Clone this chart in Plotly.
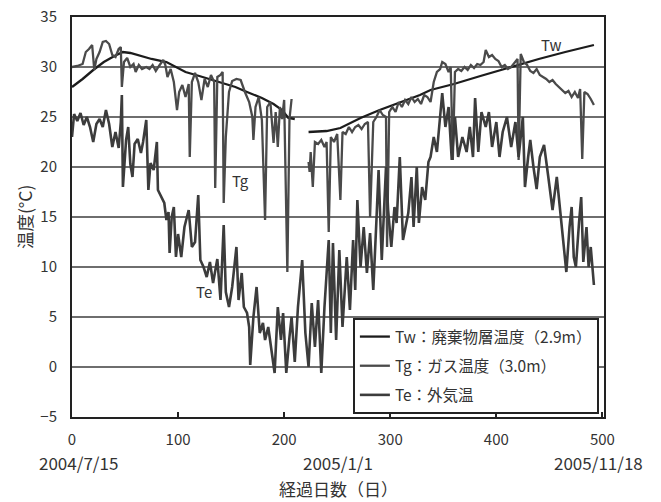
import plotly.graph_objects as go

# Waste-layer temperature Tw (2.9 m) — days since 2004/7/15, None marks the logging gap
tw_day = [0, 10, 20, 30, 40, 48, 55, 65, 75, 89, 100, 107, 120, 132, 143, 154, 165, 179, 190, 198, 204, 210,
          216,
          223, 240, 253, 265, 272, 290, 310, 328, 338, 360, 385, 413, 440, 465, 492]
tw_val = [28.0, 28.8, 29.7, 30.5, 31.1, 31.5, 31.4, 31.1, 30.8, 30.5, 29.9, 29.5, 29.1, 28.7, 28.4, 28.0, 27.5, 26.9, 26.3, 25.7, 24.9, 24.8,
          None,
          23.5, 23.6, 23.9, 24.5, 24.9, 25.7, 26.5, 27.2, 27.7, 28.3, 29.1, 30.0, 30.8, 31.5, 32.2]

# Gas temperature Tg (3.0 m)
tg_day = [0, 5, 10, 13, 16, 19, 21, 23, 26, 29, 32, 35, 38, 41, 44, 46, 47, 49, 52, 55, 58, 60, 63, 66, 70,
          73, 76, 79, 82, 86, 88, 90, 93, 96, 99, 101, 104, 107, 110, 111, 113, 116, 119, 122, 125, 128, 131,
          134, 135, 137, 140, 142, 143, 145, 148, 151, 155, 159, 163, 167, 170, 171, 173, 176, 179, 182, 184,
          187, 190, 192, 194, 196, 198, 200, 203, 205, 207,
          215,
          223, 224, 225, 227, 229, 232, 235, 238, 240, 242, 244, 247, 250, 253, 255, 258, 261, 264, 267, 270,
          273, 276, 279, 281, 284, 287, 290, 293, 296, 297, 299, 302, 305, 308, 311, 314, 317, 320, 323, 326,
          329, 332, 335, 338, 341, 344, 347, 349, 352, 355, 357, 359, 361, 364, 367, 370, 373, 376, 379, 382,
          385, 388, 390, 393, 396, 399, 402, 405, 408, 411, 414, 417, 420, 421, 423, 426, 429, 432, 435, 438,
          441, 444, 447, 450, 453, 456, 459, 462, 465, 468, 471, 474, 477, 479, 481, 483, 486, 489, 492]
tg_val = [30.0, 30.1, 30.3, 31.5, 31.8, 32.2, 29.7, 30.8, 31.5, 32.5, 32.6, 32.3, 31.2, 31.0, 31.8, 32.0, 28.0,
          30.5, 30.9, 30.0, 30.3, 29.5, 30.2, 29.8, 30.0, 29.8, 30.2, 29.6, 30.1, 30.7, 30.2, 29.0, 29.8, 28.5,
          25.7, 27.5, 28.2, 27.0, 28.3, 21.0, 28.5, 29.4, 28.5, 26.7, 28.8, 28.0, 29.2, 28.5, 17.9, 29.0, 29.2,
          29.5, 16.4, 23.0, 27.5, 28.6, 28.8, 28.7, 27.5, 26.5, 25.0, 22.7, 26.0, 27.0, 24.7, 14.7, 26.0, 26.5,
          22.4, 25.5, 22.0, 26.0, 24.8, 26.7, 9.5, 24.8, 26.8,
          None,
          20.5, 19.5, 21.5, 18.0, 22.5, 22.3, 22.7, 22.0, 22.5, 13.5, 23.0, 22.5, 23.3, 16.7, 23.5, 23.3, 24.0,
          23.5, 24.0, 24.2, 23.8, 24.3, 24.5, 15.0, 24.5, 25.0, 25.7, 25.2, 25.0, 12.0, 25.5, 26.0, 25.5, 26.5,
          26.0, 26.7, 26.3, 27.0, 26.5, 26.8, 26.3, 27.2, 27.0, 26.5, 28.5, 29.5, 29.8, 30.5, 30.3, 29.5, 30.0,
          20.7, 29.5, 29.8, 29.6, 30.0, 29.7, 30.2, 29.9, 30.3, 30.2, 30.5, 31.7, 31.0, 31.2, 30.8, 30.6, 30.0,
          30.2, 29.8, 30.0, 30.4, 30.8, 20.7, 31.3, 30.5, 30.2, 29.6, 29.4, 29.8, 29.2, 29.0, 28.8, 28.5, 28.7,
          28.3, 28.0, 27.8, 27.4, 27.6, 27.0, 27.5, 26.9, 27.8, 20.8, 27.5, 27.3, 26.8, 26.2]

# Outdoor air temperature Te
te_day = [0, 2, 5, 8, 11, 14, 17, 20, 23, 26, 29, 32, 35, 38, 41, 44, 46, 47, 48, 51, 53, 55, 57, 59, 62,
          65, 67, 70, 72, 74, 77, 80, 81, 84, 87, 89, 91, 92, 94, 96, 98, 100, 103, 106, 110, 113, 116, 119,
          121, 124, 127, 130, 133, 137, 140, 143, 145, 148, 151, 155, 157, 160, 162, 165, 167, 168, 171, 174,
          177, 180, 182, 185, 188, 191, 194, 197, 199, 202, 205, 207, 210, 213, 217, 220, 223, 226, 229, 232,
          235, 238, 242, 244, 246, 249, 252, 255, 259, 262, 265, 267, 269, 272, 275, 278, 281, 284, 287, 289,
          292, 296, 298, 301, 304, 306, 309, 312, 317, 320, 322, 325, 327, 330, 333, 336, 338, 341, 344, 347,
          349, 352, 355, 358, 361, 364, 368, 372, 375, 378, 380, 383, 386, 390, 393, 396, 400, 403, 406, 410,
          414, 418, 421, 425, 427, 430, 432, 435, 438, 441, 445, 449, 453, 457, 461, 464, 466, 469, 471, 473,
          475, 478, 480, 482, 485, 487, 489, 492]
te_val = [23.0, 25.3, 24.6, 25.4, 24.2, 25.0, 24.0, 22.5, 24.3, 24.8, 24.0, 25.7, 24.3, 22.0, 23.5, 21.9,
          24.5, 27.2, 18.0, 22.7, 24.0, 20.3, 19.0, 22.3, 22.8, 21.4, 22.5, 24.7, 17.7, 20.4, 19.7, 22.5, 17.7,
          17.0, 16.4, 14.7, 15.5, 11.4, 15.0, 16.0, 11.0, 13.3, 11.0, 14.0, 15.7, 12.0, 12.5, 17.2, 10.7, 10.0,
          9.0, 10.5, 8.4, 10.8, 6.7, 14.2, 7.5, 6.0, 8.0, 12.0, 6.7, 9.4, 6.0, 5.4, 4.0, 0.2, 5.0, 8.0, 3.4,
          4.4, 2.7, 4.0, 1.5, -0.6, 6.0, 2.7, 5.4, -0.6, 3.0, 5.0, 0.5, 6.0, 10.7, 3.4, 0.0, 6.4, 2.0, 6.7,
          -0.6, 6.0, 12.7, 3.4, 12.4, 2.7, 11.7, 4.0, 11.0, 5.7, 12.7, 7.7, 16.7, 10.0, 14.0, 9.4, 13.4, 7.7,
          14.7, 19.7, 10.7, 20.0, 15.7, 12.0, 16.0, 14.4, 21.0, 12.7, 15.4, 19.0, 14.0, 20.0, 14.4, 18.0, 16.7,
          20.5, 21.0, 23.0, 21.5, 25.0, 27.4, 24.0, 26.0, 20.7, 25.0, 21.0, 23.0, 21.5, 24.0, 21.0, 26.9, 21.5,
          25.5, 24.0, 25.5, 22.0, 24.5, 21.0, 23.5, 25.0, 22.0, 24.5, 21.0, 25.0, 18.0, 21.0, 22.7, 20.0, 17.8,
          21.0, 22.2, 19.0, 15.7, 19.0, 14.7, 12.0, 9.5, 14.0, 16.0, 11.0, 10.0, 14.5, 17.0, 10.5, 14.0, 10.0,
          12.0, 8.2]

series_names = ["Tw：廃棄物層温度（2.9m）", "Tg：ガス温度（3.0m）", "Te：外気温"]
x_ticks = [0, 100, 200, 300, 400, 500]
y_ticks = [-5, 0, 5, 10, 15, 20, 25, 30, 35]
date_labels = ["2004/7/15", "2005/1/1", "2005/11/18"]

FONT = "Noto Sans CJK JP, Noto Sans, sans-serif"

fig = go.Figure()
fig.add_trace(go.Scatter(x=tw_day, y=tw_val, mode="lines", name=series_names[0], legendgroup="tw",
                         line=dict(color="#1c1c1c", width=2.3), connectgaps=False))
fig.add_trace(go.Scatter(x=tg_day, y=tg_val, mode="lines", name=series_names[1], legendgroup="tg",
                         line=dict(color="#4a4a4a", width=2.3), connectgaps=False))
fig.add_trace(go.Scatter(x=te_day, y=te_val, mode="lines", name=series_names[2], legendgroup="te",
                         line=dict(color="#3c3c3c", width=2.6)))

# in-plot series labels
for txt, xd, yv in [("Tg", 159, 18.7), ("Te", 124, 7.6), ("Tw", 452, 32.3)]:
    fig.add_annotation(x=xd, y=yv, text=txt, showarrow=False, xref="x", yref="y",
                       font=dict(size=15, color="#333", family=FONT))

# calendar dates under the day axis
for txt, px in zip(date_labels, [0.013, 0.50, 0.99]):
    fig.add_annotation(x=px, y=-0.113, text=txt, showarrow=False, xref="paper", yref="paper",
                       xanchor="center", yanchor="middle",
                       font=dict(size=17, color="#333", family=FONT))

# axis titles
fig.add_annotation(x=0.5, y=-0.178, text="経過日数（日）", showarrow=False, xref="paper", yref="paper",
                   xanchor="center", yanchor="middle", font=dict(size=17, color="#333", family=FONT))
fig.add_annotation(x=-0.09, y=0.5, text="温度(°C)", showarrow=False, xref="paper", yref="paper",
                   textangle=-90, xanchor="center", yanchor="middle",
                   font=dict(size=17.5, color="#333", family=FONT))

fig.update_layout(
    width=661, height=502,
    margin=dict(l=72, r=57, t=17, b=85),
    paper_bgcolor="white", plot_bgcolor="white",
    font=dict(family=FONT, size=14, color="#333"),
    showlegend=True,
    legend=dict(x=0.528, y=0.2475, xanchor="left", yanchor="top",
                bordercolor="#222", borderwidth=2, bgcolor="white",
                font=dict(size=15.5, color="#333", family=FONT),
                tracegroupgap=6, traceorder="grouped"),
    xaxis=dict(range=[0, 501.5], tickvals=x_ticks, showgrid=False, zeroline=False,
               showline=True, linecolor="#222", linewidth=2, mirror=True,
               ticks="inside", ticklen=5, tickcolor="#222", tickwidth=2,
               ticklabelstandoff=8, automargin=False,
               tickfont=dict(size=15, color="#333")),
    yaxis=dict(range=[-5, 35], tickvals=y_ticks, showgrid=True, gridcolor="#6e6e6e", gridwidth=2,
               zeroline=False, showline=True, linecolor="#222", linewidth=2, mirror=True,
               ticks="", ticklabelstandoff=10, automargin=False,
               tickfont=dict(size=15, color="#333")),
)

fig.write_html("out.html")
